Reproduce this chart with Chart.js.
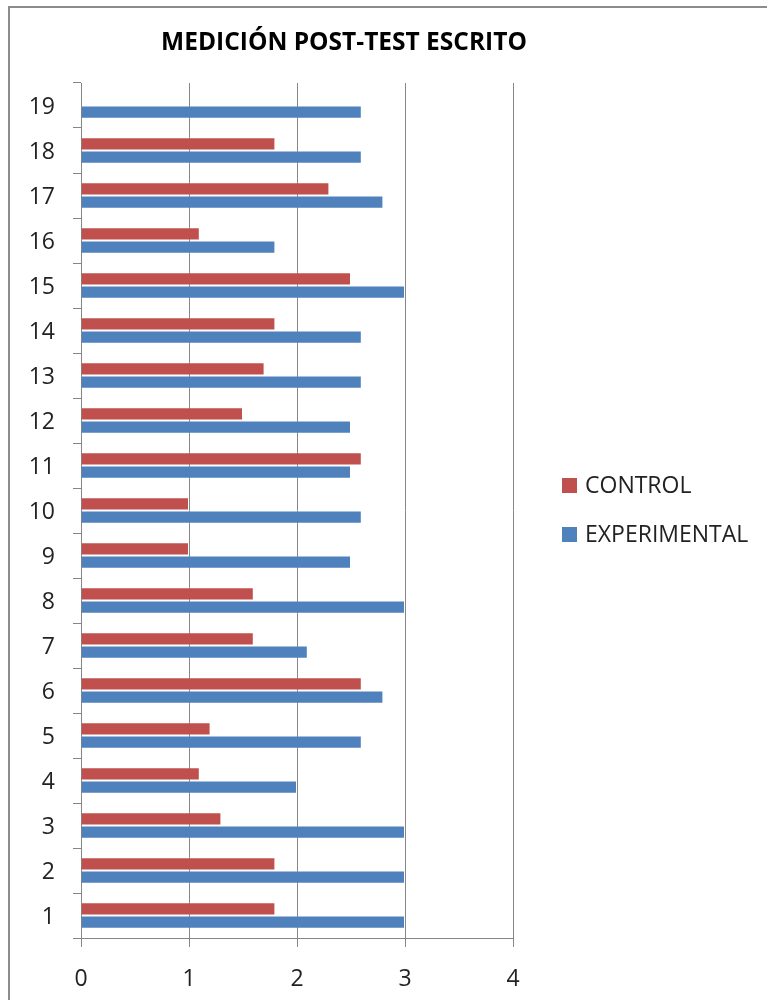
<!DOCTYPE html>
<html>
<head>
<meta charset="utf-8">
<script src="https://cdn.jsdelivr.net/npm/chart.js@4.4.1/dist/chart.umd.min.js"></script>
<style>
  html, body { margin: 0; padding: 0; background: #fff; }
  #frame { position: absolute; left: 8px; top: 6px; width: 900px; height: 1100px; border-left: 2px solid #8c8c8c; border-top: 2px solid #8c8c8c; }
  #barChart { position: absolute; left: 0; top: 0; }
</style>
</head>
<body>
<div id="frame"></div>
<canvas id="barChart" width="767" height="1000"></canvas>
<script>
// Datos del grafico
const chartTitle = 'MEDICIÓN POST-TEST ESCRITO';
const categories = ['1', '2', '3', '4', '5', '6', '7', '8', '9', '10', '11', '12', '13', '14', '15', '16', '17', '18', '19'];
const controlValues = [1.8, 1.8, 1.3, 1.1, 1.2, 2.6, 1.6, 1.6, 1.0, 1.0, 2.6, 1.5, 1.7, 1.8, 2.5, 1.1, 2.3, 1.8, null];
const experimentalValues = [3, 3, 3, 2.0, 2.6, 2.8, 2.1, 3, 2.5, 2.6, 2.5, 2.5, 2.6, 2.6, 3, 1.8, 2.8, 2.6, 2.6];
const axisMin = 0;
const axisMax = 4;

const gridGray = '#868686';
const textColor = '#222';
const tickFont = { family: '"Open Sans"', size: 23 };

// Titulo dibujado a mano (en Excel no esta centrado sobre el grafico)
const titlePlugin = {
    id: 'postTestTitle',
    afterDraw(chart) {
        const ctx = chart.ctx;
        ctx.save();
        ctx.font = 'bold 24.5px "Open Sans"';
        ctx.fillStyle = '#000';
        ctx.textAlign = 'center';
        ctx.textBaseline = 'alphabetic';
        ctx.fillText(chartTitle, 344, 50);
        ctx.restore();
    }
};

// Leyenda a la derecha, al estilo Excel (cuadro pegado al texto)
const legendPlugin = {
    id: 'excelLegend',
    afterDraw(chart) {
        const ctx = chart.ctx;
        const area = chart.chartArea;
        const boxSize = 15;
        const x = area.right + 49;
        let y = (area.top + area.bottom) / 2 - 25;
        ctx.save();
        ctx.font = '23px "Open Sans"';
        ctx.textBaseline = 'middle';
        ctx.textAlign = 'left';
        chart.data.datasets.forEach(ds => {
            ctx.fillStyle = ds.backgroundColor;
            ctx.fillRect(x, y - boxSize / 2, boxSize, boxSize);
            ctx.fillStyle = textColor;
            ctx.fillText(ds.label, x + boxSize + 8, y + 1);
            y += 49;
        });
        ctx.restore();
    }
};

const barData = {
    labels: categories,
    datasets: [{
        label: 'CONTROL',
        data: controlValues,
        backgroundColor: '#c0504d',
        borderColor: 'rgba(255,255,255,0.2)',
        borderWidth: 1
    }, {
        label: 'EXPERIMENTAL',
        data: experimentalValues,
        backgroundColor: '#4f81bd',
        borderColor: 'rgba(255,255,255,0.2)',
        borderWidth: 1
    }]
};

const barConfig = {
    type: 'bar',
    data: barData,
    plugins: [titlePlugin, legendPlugin],
    options: {
        indexAxis: 'y',
        responsive: false,
        animation: false,
        categoryPercentage: 0.59,
        barPercentage: 1,
        layout: { padding: { top: 83, left: 28, right: 254, bottom: 0 } },
        scales: {
            x: {
                min: axisMin,
                max: axisMax,
                ticks: { stepSize: 1, color: textColor, font: tickFont, padding: 19 },
                grid: { color: gridGray, tickLength: 9 },
                border: { color: gridGray },
                afterFit(scale) { scale.height = 62; }
            },
            y: {
                reverse: true,
                ticks: { color: textColor, font: tickFont, padding: 18, labelOffset: 2 },
                grid: { offset: true, drawOnChartArea: false, color: gridGray, tickLength: 8 },
                border: { color: gridGray },
                afterFit(scale) { scale.width = 53; }
            }
        },
        plugins: {
            title: { display: false },
            tooltip: { enabled: false },
            legend: { display: false }
        }
    }
};

var barChart = new Chart(document.getElementById('barChart'), barConfig);
</script>
</body>
</html>
